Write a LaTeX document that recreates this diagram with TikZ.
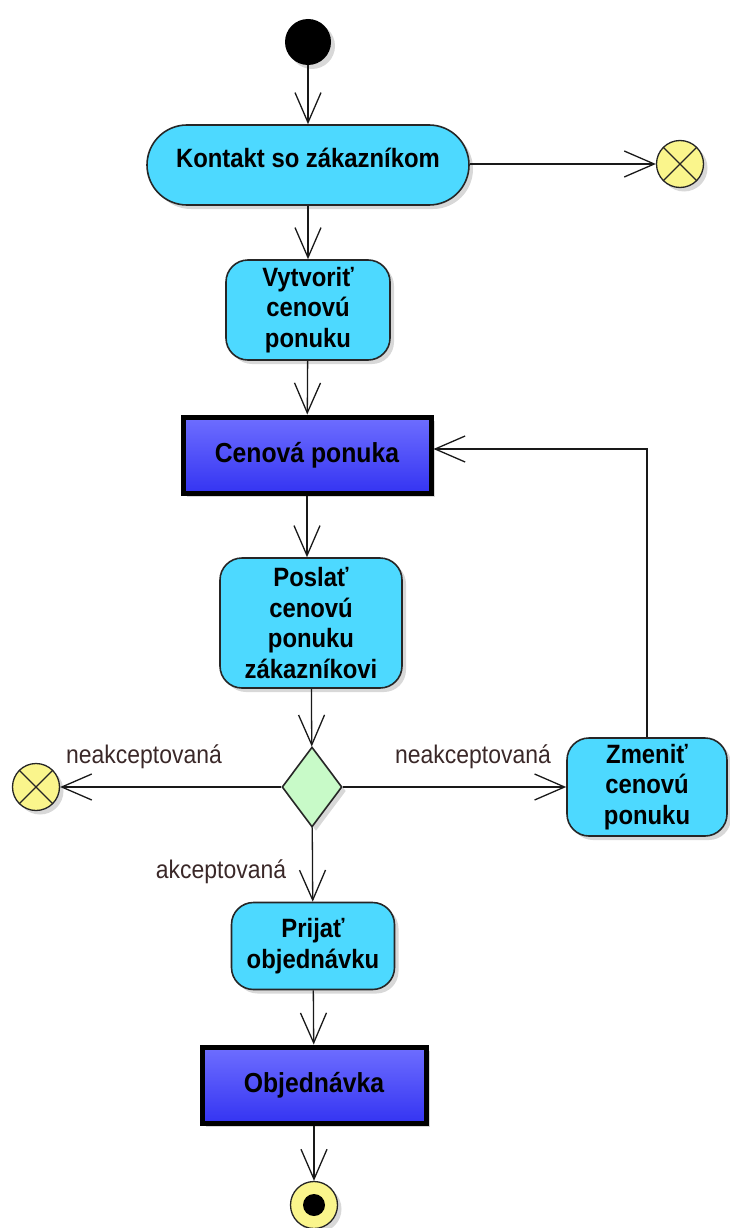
\documentclass[tikz,border=0pt]{standalone}
\usepackage{fontspec}
\setmainfont{Liberation Sans}[FakeStretch=0.9]
\usetikzlibrary{arrows.meta,shapes.geometric,shadows}
\definecolor{actfill}{HTML}{4DD9FF}
\definecolor{objtop}{HTML}{6E6EFF}
\definecolor{objbot}{HTML}{3434F2}
\definecolor{decfill}{HTML}{C8FAC8}
\definecolor{finfill}{HTML}{FAF58C}
\definecolor{lblcol}{HTML}{3A2828}
\begin{document}
\begin{tikzpicture}[x=1pt,y=-1pt,
  softshadow/.style={drop shadow={shadow xshift=4pt,shadow yshift=-4pt,opacity=0.22,fill=black!70}},
  action/.style={draw=black!85, line width=1.6pt, fill=actfill, rounded corners=22pt,
    align=center, inner sep=0pt, softshadow,
    font=\bfseries\fontsize{26.5}{30.5}\selectfont},
  objectnode/.style={draw=black, line width=5pt, top color=objtop, bottom color=objbot,
    inner sep=0pt, softshadow, font=\bfseries\fontsize{27.5}{31}\selectfont},
  initialnode/.style={circle, fill=black, minimum size=46pt, inner sep=0pt, softshadow},
  flowfinal/.style={circle, draw=black!85, line width=1.3pt, fill=finfill, minimum size=47pt,
    inner sep=0pt, softshadow,
    path picture={\draw[line width=1.3pt, black!85]
      (path picture bounding box.south west) -- (path picture bounding box.north east)
      (path picture bounding box.north west) -- (path picture bounding box.south east);}},
  activityfinal/.style={circle, draw=black!85, line width=1.3pt, fill=finfill, minimum size=47pt,
    inner sep=0pt, softshadow,
    path picture={\fill[black] (path picture bounding box.center) circle (11pt);}},
  decision/.style={diamond, draw=black!85, line width=1.6pt, fill=decfill, inner sep=0pt,
    minimum width=60pt, minimum height=80pt, softshadow},
  flow/.style={draw=black!90, line width=1.3pt,
    -{Straight Barb[length=30pt,width=26pt]}},
  guard/.style={text=lblcol, inner sep=0pt, font=\fontsize{25.5}{30}\selectfont}
]
\useasboundingbox (0,0) rectangle (729,1228);

% nodes
\node[initialnode] (start) at (308,42) {};
\node[action, minimum width=322pt, minimum height=80pt, rounded corners=40pt,
      text height=21pt, text depth=16pt] (kontakt) at (308,165) {Kontakt so zákazníkom};
\node[flowfinal] (fin1) at (680,164) {};
\node[action, minimum width=164pt, minimum height=100pt] (vytv) at (308,310)
  {Vytvoriť\\cenovú\\ponuku};
\node[objectnode, minimum width=248pt, minimum height=76pt] (cen) at (307,455) {Cenová ponuka};
\node[action, minimum width=182pt, minimum height=130pt] (poslat) at (311,623)
  {Poslať\\cenovú\\ponuku\\zákazníkovi};
\node[decision] (dec) at (312,787) {};
\node[flowfinal] (fin2) at (36,787) {};
\node[action, minimum width=160pt, minimum height=98pt] (zmen) at (647,787)
  {Zmeniť\\cenovú\\ponuku};
\node[action, minimum width=163pt, minimum height=87pt] (prijat) at (313,946)
  {Prijať\\objednávku};
\node[objectnode, minimum width=224pt, minimum height=76pt] (obj) at (314,1085) {Objednávka};
\node[activityfinal] (end) at (314,1205) {};

% guard labels
\node[guard] (g1) at (144,757) {neakceptovaná};
\node[guard] (g2) at (473,757) {neakceptovaná};
\node[guard] (g3) at (221,872) {akceptovaná};

% connectors
\draw[flow] (start) -- (kontakt);
\draw[flow] (kontakt.east |- fin1) -- (fin1);
\draw[flow] (kontakt) -- (vytv);
\draw[flow] (vytv) -- (cen);
\draw[flow] (cen.south) -- (cen.south |- poslat.north);
\draw[flow] (poslat) -- (dec);
\draw[flow] (dec) -- (fin2);
\draw[flow] (dec) -- (zmen);
\draw[flow] (dec) -- (prijat);
\draw[flow] (prijat) -- (obj);
\draw[flow] (obj) -- (end);
\draw[flow] (zmen.north) |- ([yshift=6pt]cen.east);
\end{tikzpicture}
\end{document}
